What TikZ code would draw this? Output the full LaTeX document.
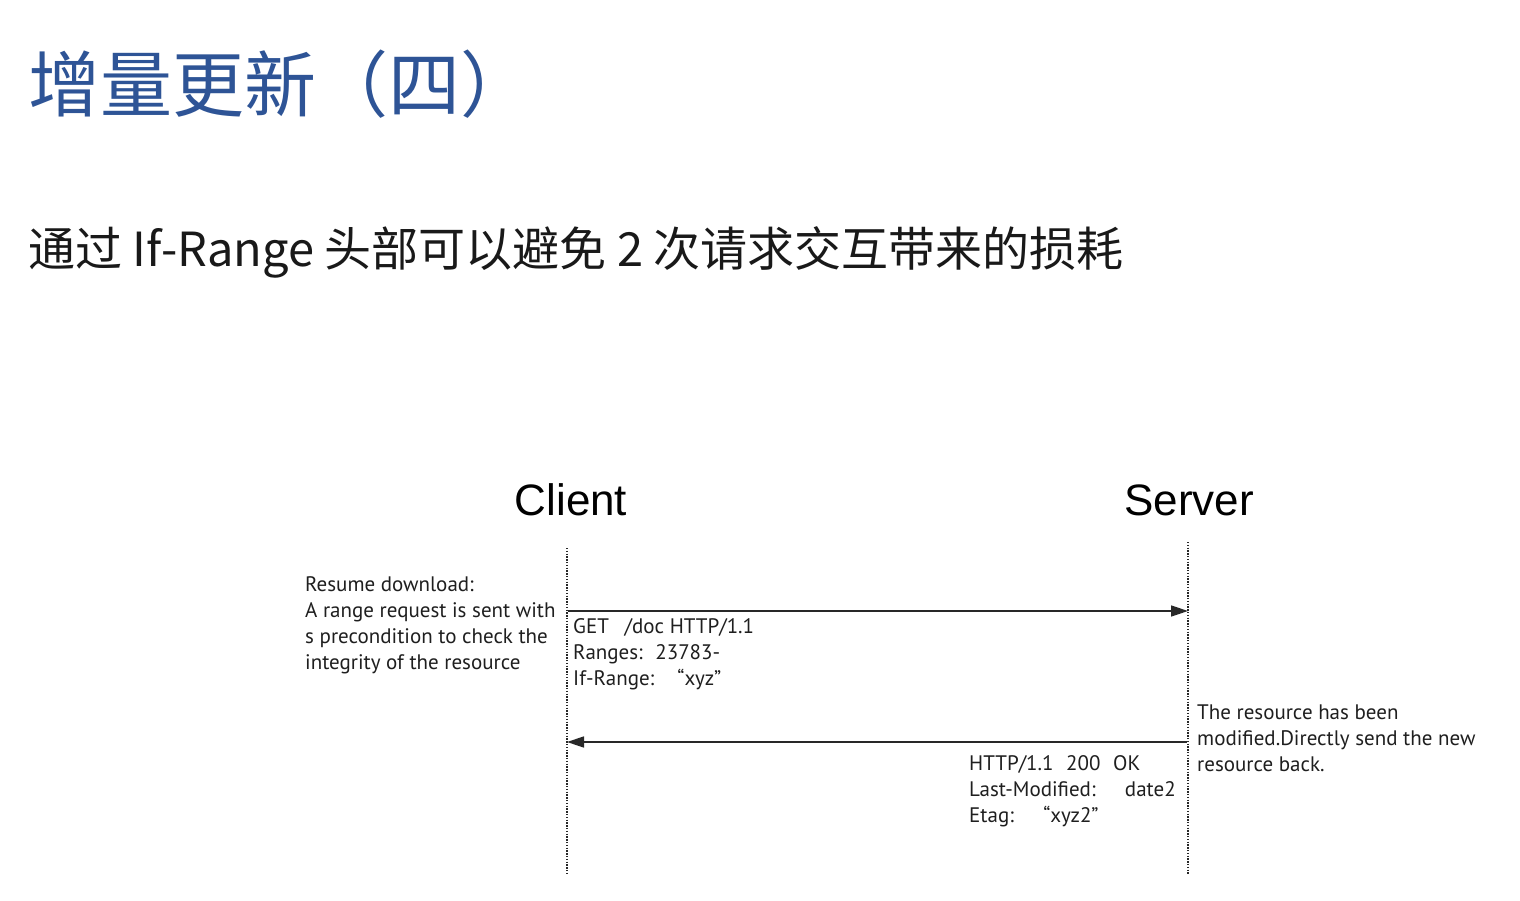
\documentclass[tikz,border=0pt]{standalone}
\usepackage{fontspec}
\setmainfont{PT Sans}
\newfontfamily\cjkfont{Noto Sans CJK SC}
\newfontfamily\arialfont{Liberation Sans}
\usetikzlibrary{arrows.meta,positioning}
\definecolor{titleblue}{RGB}{46,84,150}
\definecolor{linegray}{RGB}{40,40,40}

\begin{document}
\begin{tikzpicture}
  [x=1pt,y=-1pt,
  heading/.style={anchor=base west,inner sep=0pt,font=\cjkfont},
  party/.style={anchor=base,inner sep=0pt,font=\arialfont\fontsize{44}{50}\selectfont},
  lifeline/.style={line width=1.6pt,dash pattern=on 1.4pt off 1.4pt,linegray},
  message/.style={line width=1.5pt,linegray,-{Triangle[length=17pt,width=11pt]}},
  note/.style={anchor=base west,inner sep=0pt,align=left,text=black!88,font=\fontsize{21}{25.7}\selectfont}]
  \useasboundingbox[fill=white] (0,0) rectangle (1520,901);

  % headings
  \node[heading,text=titleblue,font=\cjkfont\fontsize{72}{84}\selectfont] (title) at (28,112) {增量更新（四）};
  \node[heading,text=black!90,font=\cjkfont\fontsize{47}{55}\selectfont] (subtitle) at (28,267) {通过 If-Range 头部可以避免 2 次请求交互带来的损耗};

  \node[party] (client) at (571,515) {Client};
  \node[party] (server) at (1189,515) {Server};

  % lifelines
  \coordinate (ctop) at (567,548);
  \coordinate (cbot) at (567,875);
  \coordinate (stop) at (1188,542);
  \coordinate (sbot) at (1188,875);
  \draw[lifeline] (ctop) -- (cbot);
  \draw[lifeline] (stop) -- (sbot);

  % messages
  \coordinate (creq) at (568,611);
  \coordinate (sreq) at (1188,611);
  \coordinate (sres) at (1187,742);
  \coordinate (cres) at (567,742);
  \draw[message] (creq) -- (sreq);
  \draw[message] (sres) -- (cres);

  % notes (base = last line)
  \node[note] (resume) at (305,669) {Resume download:\\A range request is sent with\\s precondition to check the\\integrity of the resource};
  \node[note] (request) at (573,685) {GET\hspace{0.75em}/doc HTTP/1.1\\Ranges:\hspace{0.6em}23783-\\If-Range:\hspace{1.1em}“xyz”};
  \node[note] (response) at (969,822) {HTTP/1.1\hspace{0.6em}200\hspace{0.6em}OK\\Last-Modified:\hspace{1.4em}date2\\Etag:\hspace{1.4em}“xyz2”};
  \node[note] (modified) at (1197,771) {The resource has been\\modified.Directly send the new\\resource back.};
\end{tikzpicture}
\end{document}
